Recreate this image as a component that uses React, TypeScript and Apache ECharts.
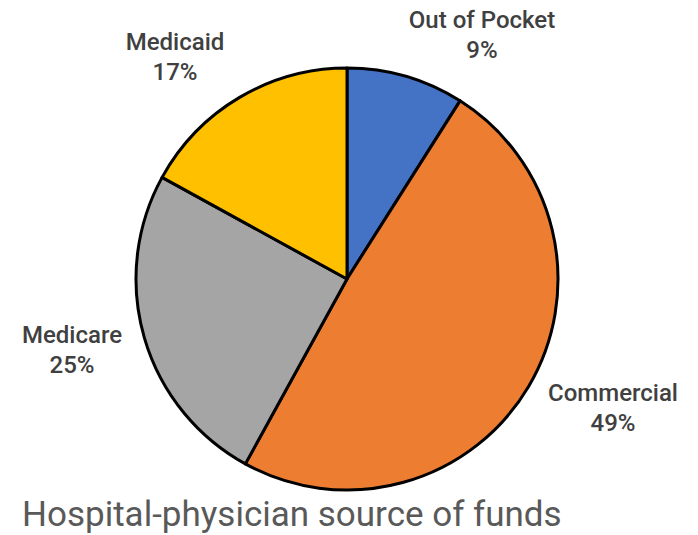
import React, { useEffect, useRef } from "react";
import * as echarts from "echarts";

const categories = ["Out of Pocket", "Commercial", "Medicare", "Medicaid"];
const values = [9, 49, 25, 17];
const colors = ["#4472C4", "#ED7D31", "#A5A5A5", "#FFC000"];
const labelPos: [number, number][] = [
  [482, 35],
  [613, 408],
  [72, 350],
  [175, 57],
];
const title = "Hospital-physician source of funds";

export default function App() {
  const ref = useRef<HTMLDivElement>(null);
  useEffect(() => {
    const chart = echarts.init(ref.current!, null, { renderer: "svg" });
    chart.setOption({
      animation: false,
      backgroundColor: "#ffffff",
      title: {
        text: title,
        left: 17,
        top: 492,
        textStyle: {
          fontFamily: "Roboto",
          fontWeight: "normal",
          fontSize: 35,
          color: "#595959",
        },
      },
      series: [
        {
          type: "pie",
          center: [347, 279],
          radius: 211,
          startAngle: 90,
          clockwise: true,
          data: categories.map((c, i) => ({
            name: c,
            value: values[i],
            itemStyle: { color: colors[i] },
          })),
          itemStyle: { borderColor: "#000000", borderWidth: 3 },
          label: {
            show: true,
            position: "outside",
            formatter: (p: any) => `${p.name}\n${p.value}%`,
            fontFamily: "Roboto",
            fontWeight: 500,
            fontSize: 24,
            lineHeight: 30,
            color: "#404040",
            align: "center",
            overflow: "none",
            width: 250,
          },
          labelLine: { show: false },
          labelLayout: (params: any) => {
            const pos = labelPos[params.dataIndex];
            return { x: pos[0], y: pos[1], align: "center", verticalAlign: "middle" };
          },
        },
      ],
    });
    return () => chart.dispose();
  }, []);
  return (
    <div
      ref={ref}
      style={{ position: "fixed", left: 0, top: 0, width: 698, height: 535 }}
    />
  );
}
